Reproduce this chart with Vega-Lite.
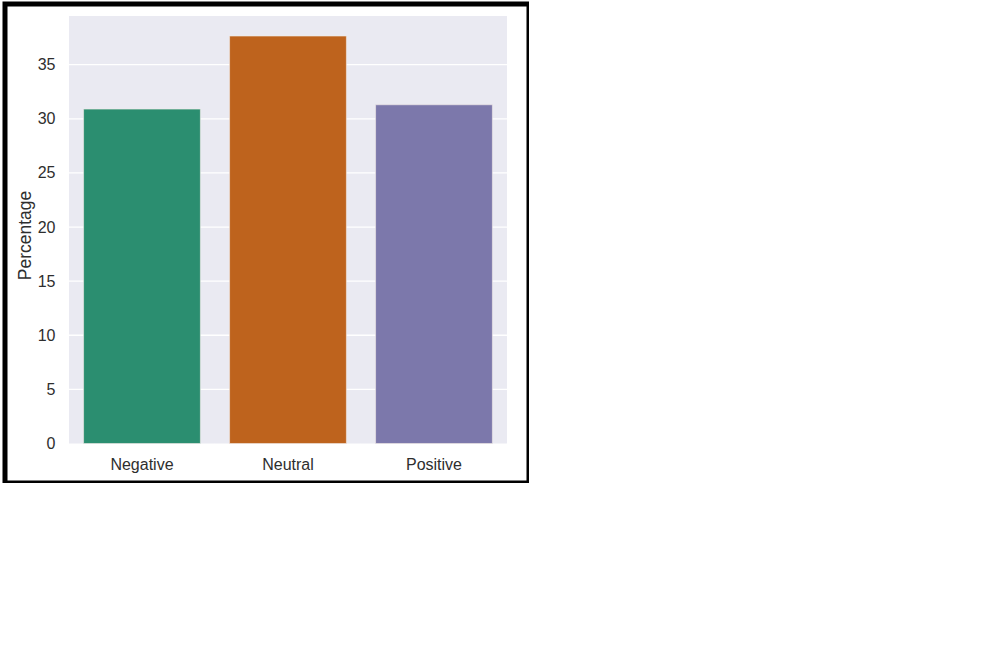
{
  "$schema": "https://vega.github.io/schema/vega-lite/v6.json",
  "width": 524,
  "height": 479,
  "padding": {"left": 5, "top": 4, "right": 0, "bottom": 0},
  "autosize": {"type": "none"},
  "background": "white",
  "config": {
    "view": {"stroke": "#000000", "strokeWidth": 5, "fill": "white"},
    "font": "Liberation Sans"
  },
  "datasets": {
    "sentiment": [
      {"Sentiment": "Negative", "Percentage": 30.9},
      {"Sentiment": "Neutral", "Percentage": 37.65},
      {"Sentiment": "Positive", "Percentage": 31.3}
    ],
    "grid": [
      {"value": 5}, {"value": 10}, {"value": 15}, {"value": 20},
      {"value": 25}, {"value": 30}, {"value": 35}
    ]
  },
  "layer": [
    {
      "data": {"name": "sentiment"},
      "mark": {"type": "bar", "width": {"band": 1}, "color": "#EAEAF2"},
      "encoding": {
        "x": {
          "field": "Sentiment", "type": "nominal",
          "scale": {"domain": ["Negative", "Neutral", "Positive"], "paddingInner": 0, "paddingOuter": 0.2945, "align": 0.744},
          "axis": {"title": null, "grid": false, "domain": false, "ticks": false, "offset": -39, "labelPadding": 12, "labelFontSize": 16, "labelColor": "#2e2e2e", "labelAngle": 0, "labelFont": "Liberation Sans"}
        },
        "y": {
          "datum": 39.5, "type": "quantitative",
          "scale": {"domain": [-3.65, 40.61], "nice": false, "zero": false},
          "axis": {"title": "Percentage", "values": [0, 5, 10, 15, 20, 25, 30, 35], "grid": false, "domain": false, "ticks": false, "offset": -64, "labelPadding": 14, "labelFontSize": 16, "titleFontSize": 17.5, "labelColor": "#2e2e2e", "titleColor": "#2e2e2e", "titleFontWeight": "normal", "titlePadding": 3, "titleY": 231, "labelFont": "Liberation Sans", "titleFont": "Liberation Sans"}
        },
        "y2": {"datum": 0}
      }
    },
    {
      "data": {"name": "grid"},
      "mark": {"type": "rule", "color": "white", "strokeWidth": 1.3},
      "encoding": {
        "x": {"datum": "Negative", "type": "nominal", "bandPosition": 0},
        "x2": {"datum": "Positive", "bandPosition": 1},
        "y": {"field": "value", "type": "quantitative"}
      }
    },
    {
      "data": {"name": "sentiment"},
      "mark": {"type": "bar", "width": {"band": 0.8}, "stroke": "#f4ece8", "strokeWidth": 0.6},
      "encoding": {
        "x": {"field": "Sentiment", "type": "nominal"},
        "y": {"field": "Percentage", "type": "quantitative"},
        "color": {
          "field": "Sentiment", "type": "nominal",
          "scale": {"domain": ["Negative", "Neutral", "Positive"], "range": ["#2b8e70", "#be631d", "#7c78ab"]},
          "legend": null
        }
      }
    }
  ]
}
